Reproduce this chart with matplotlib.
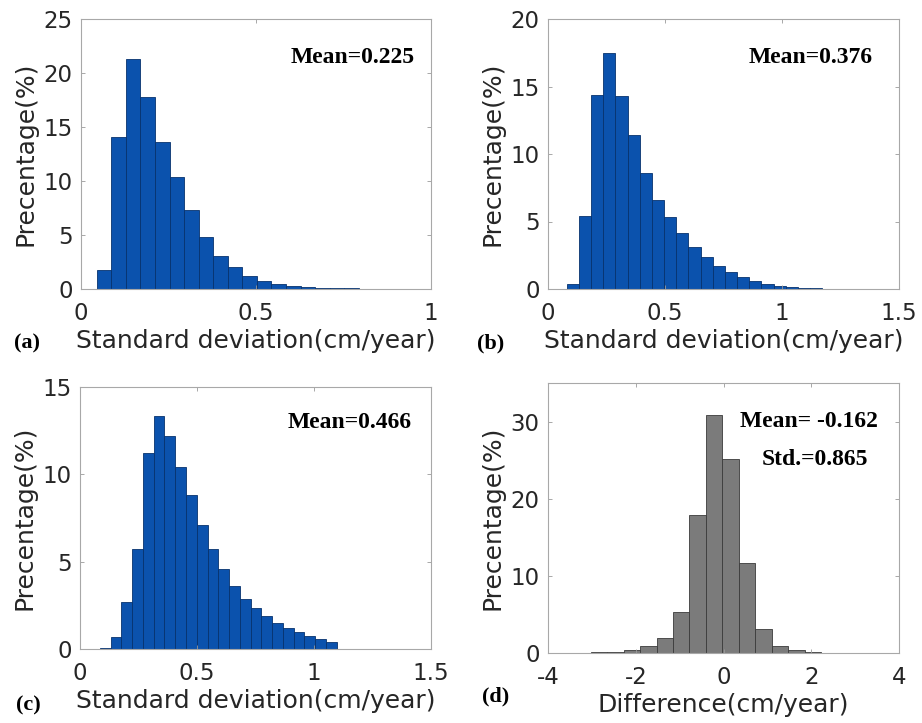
"""Histograms of velocity standard deviation and difference (four panels)."""
import matplotlib
matplotlib.use("Agg")
import matplotlib.pyplot as plt
import numpy as np

# (a) standard deviation histogram
a_start, a_width = 0.045, 0.0416
a_pct = [1.8, 14.05, 21.3, 17.8, 13.6, 10.4, 7.3, 4.86, 3.06, 2.0, 1.2,
         0.7, 0.42, 0.26, 0.16, 0.1, 0.07, 0.05, 0.03, 0.02, 0.015, 0.01]

# (b)
b_start, b_width = 0.08, 0.052
b_pct = [0.4, 5.4, 14.4, 17.5, 14.3, 11.4, 8.6, 6.6, 5.3, 4.15, 3.1,
         2.4, 1.7, 1.25, 0.9, 0.6, 0.38, 0.22, 0.13, 0.08, 0.05, 0.03]

# (c)
c_start, c_width = 0.085, 0.046
c_pct = [0.05, 0.7, 2.7, 5.7, 11.2, 13.35, 12.2, 10.4, 8.8, 7.1, 5.7,
         4.57, 3.6, 2.87, 2.37, 1.9, 1.5, 1.2, 0.97, 0.73, 0.57, 0.4]

# (d) difference histogram
d_start, d_width = -3.775, 0.375
d_pct = [0.03, 0.05, 0.08, 0.15, 0.4, 0.95, 1.95, 5.3, 17.9, 30.8, 25.1,
         11.7, 3.05, 0.95, 0.35, 0.12, 0.06, 0.03, 0.02]

BLUE = "#0b52ad"
BLUE_EDGE = "#07326e"
GREY = "#7b7b7b"
GREY_EDGE = "#3a3a3a"
SERIF = "Liberation Serif"
TXT = "#262626"

panels = [
    dict(pos=[81, 19, 431, 289], start=a_start, width=a_width, pct=a_pct,
         xlim=(0, 1), xticks=[0, 0.5, 1], xtl=["0", "0.5", "1"],
         ylim=(0, 25), yticks=[0, 5, 10, 15, 20, 25], color=BLUE, edge=BLUE_EDGE,
         xlabel="Standard deviation(cm/year)", tag="(a)", tag_at=(14, 343),
         notes=[("Mean=0.225", 0.954, 0.856)]),
    dict(pos=[548, 19, 899, 289], start=b_start, width=b_width, pct=b_pct,
         xlim=(0, 1.5), xticks=[0, 0.5, 1, 1.5], xtl=["0", "0.5", "1", "1.5"],
         ylim=(0, 20), yticks=[0, 5, 10, 15, 20], color=BLUE, edge=BLUE_EDGE,
         xlabel="Standard deviation(cm/year)", tag="(b)", tag_at=(477, 343),
         notes=[("Mean=0.376", 0.926, 0.856)]),
    dict(pos=[80, 387, 431, 649], start=c_start, width=c_width, pct=c_pct,
         xlim=(0, 1.5), xticks=[0, 0.5, 1, 1.5], xtl=["0", "0.5", "1", "1.5"],
         ylim=(0, 15), yticks=[0, 5, 10, 15], color=BLUE, edge=BLUE_EDGE,
         xlabel="Standard deviation(cm/year)", tag="(c)", tag_at=(16, 705),
         notes=[("Mean=0.466", 0.946, 0.863)]),
    dict(pos=[548, 383, 899, 653], start=d_start, width=d_width, pct=d_pct,
         xlim=(-4, 4), xticks=[-4, -2, 0, 2, 4], xtl=["-4", "-2", "0", "2", "4"],
         ylim=(0, 35), yticks=[0, 10, 20, 30], color=GREY, edge=GREY_EDGE,
         xlabel="Difference(cm/year)", tag="(d)", tag_at=(482, 696),
         notes=[("Mean= -0.162", 0.94, 0.856), ("Std.=0.865", 0.912, 0.715)]),
]

W, H = 922, 723
fig = plt.figure(figsize=(W / 100, H / 100), dpi=100)

for p in panels:
    x0, y0, x1, y1 = p["pos"]
    ax = fig.add_axes([x0 / W, 1 - y1 / H, (x1 - x0) / W, (y1 - y0) / H])
    pct = np.array(p["pct"])
    lefts = p["start"] + p["width"] * np.arange(len(pct))
    ax.bar(lefts, pct, width=p["width"], align="edge", color=p["color"],
           edgecolor=p["edge"], linewidth=0.6)
    ax.set_xlim(*p["xlim"])
    ax.set_ylim(*p["ylim"])
    ax.set_xticks(p["xticks"])
    ax.set_xticklabels(p["xtl"])
    ax.set_yticks(p["yticks"])
    ax.tick_params(direction="in", length=3, width=0.6, color="#9a9a9a",
                   labelsize=16.5, labelcolor=TXT, top=True, right=True)
    ax.tick_params(axis="x", pad=9)
    ax.tick_params(axis="y", pad=6)
    for s in ax.spines.values():
        s.set_color("#a8a8a8")
        s.set_linewidth(0.8)
    ax.set_ylabel("Precentage(%)", fontsize=18, color=TXT, labelpad=4)
    ax.set_xlabel(p["xlabel"], fontsize=18, color=TXT, labelpad=3)
    fig.text(p["tag_at"][0] / W, 1 - p["tag_at"][1] / H, p["tag"],
             fontsize=16, fontweight="bold", family=SERIF,
             va="center", ha="left")
    for note, nx, ny in p["notes"]:
        ax.text(nx, ny, note, transform=ax.transAxes, fontsize=17,
                fontweight="bold", family=SERIF, ha="right", va="center")

fig.savefig("out.png", dpi=100)
